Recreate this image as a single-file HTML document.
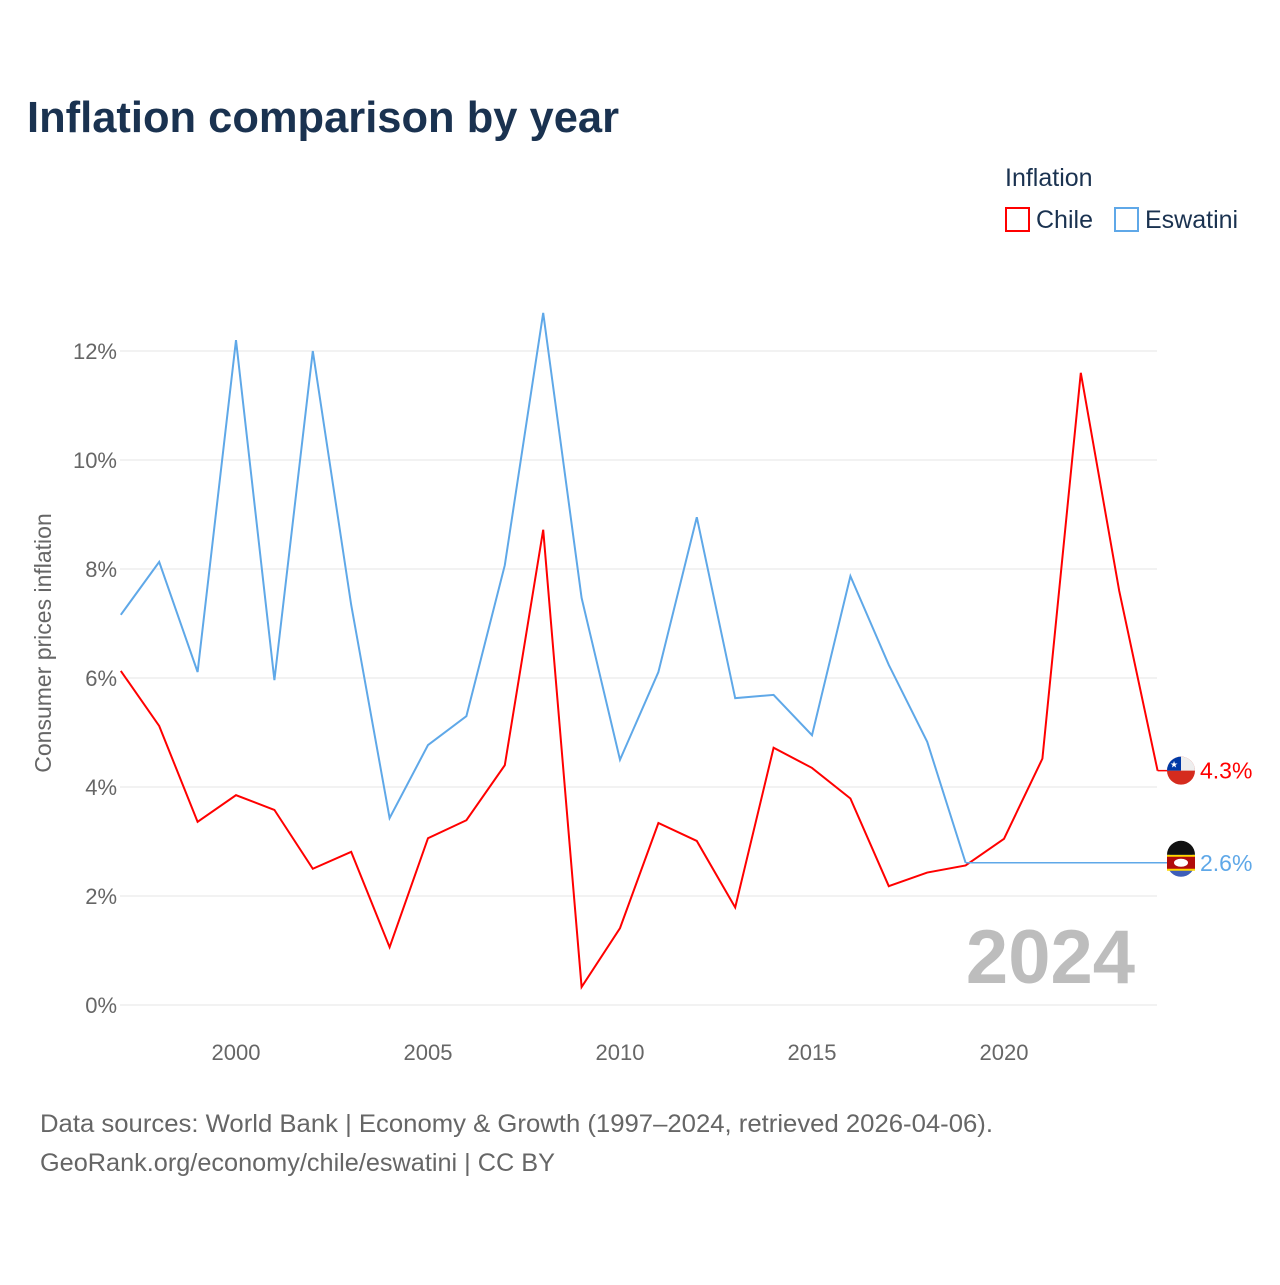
<!DOCTYPE html>
<html><head><meta charset="utf-8"><style>
body{margin:0;background:#fff;font-family:"Liberation Sans",sans-serif}
</style></head><body>
<svg id="chart" width="1280" height="1280" viewBox="0 0 1280 1280" xmlns="http://www.w3.org/2000/svg">
<text x="27" y="132" font-size="44" font-weight="bold" fill="#1a3250" textLength="592" lengthAdjust="spacingAndGlyphs">Inflation comparison by year</text>
<text x="1005" y="186" font-size="25" fill="#1a3250">Inflation</text>
<g><rect x="1006" y="208" width="23" height="23" fill="none" stroke="#ff0000" stroke-width="2"/><text x="1036" y="228" font-size="25" fill="#1a3250">Chile</text></g>
<g><rect x="1115" y="208" width="23" height="23" fill="none" stroke="#5fa8e8" stroke-width="2"/><text x="1145" y="228" font-size="25" fill="#1a3250">Eswatini</text></g>
<g id="grid"></g>
<g id="xticks"></g>
<text transform="translate(51,643) rotate(-90)" text-anchor="middle" font-size="23" fill="#666">Consumer prices inflation</text>
<text x="1135" y="983" text-anchor="end" font-size="76" font-weight="bold" fill="#bdbdbd">2024</text>
<g id="series"></g>
<text x="40" y="1132" font-size="25" fill="#666" textLength="953" lengthAdjust="spacingAndGlyphs">Data sources: World Bank | Economy &amp; Growth (1997–2024, retrieved 2026-04-06).</text>
<text x="40" y="1171" font-size="25" fill="#666" textLength="515" lengthAdjust="spacingAndGlyphs">GeoRank.org/economy/chile/eswatini | CC BY</text>
</svg>
<script>
const years=[1997,1998,1999,2000,2001,2002,2003,2004,2005,2006,2007,2008,2009,2010,2011,2012,2013,2014,2015,2016,2017,2018,2019,2020,2021,2022,2023,2024];
const chile=[6.13,5.12,3.36,3.85,3.58,2.50,2.81,1.06,3.06,3.39,4.40,8.72,0.33,1.41,3.34,3.01,1.79,4.72,4.35,3.79,2.18,2.43,2.56,3.05,4.52,11.6,7.6,4.3];
const eswatini=[7.16,8.13,6.11,12.2,5.96,12.0,7.34,3.43,4.77,5.30,8.07,12.7,7.47,4.50,6.11,8.95,5.63,5.69,4.95,7.87,6.24,4.83,2.61,null,null,null,null,null];
const yTicks=[0,2,4,6,8,10,12];
const xTicks=[2000,2005,2010,2015,2020];
const NS="http://www.w3.org/2000/svg";
const X=y=>120.8+(y-1997)*38.4;
const Y=v=>1005-v*54.5;
function mk(tag,attrs,parent,txt){const e=document.createElementNS(NS,tag);for(const k in attrs)e.setAttribute(k,attrs[k]);if(txt!==undefined)e.textContent=txt;parent.appendChild(e);return e;}
const grid=document.getElementById('grid');
yTicks.forEach(t=>{
 const l=mk('line',{x1:120,x2:1157,y1:Y(t),y2:Y(t),stroke:'#e6e6e6','stroke-width':1},grid);
 
 
 const tx=mk('text',{x:117,y:Y(t)+8,'text-anchor':'end','font-size':22,fill:'#666'},grid,t+'%');
 
 
});
const xt=document.getElementById('xticks');
xTicks.forEach(t=>{
 const tx=mk('text',{x:X(t),y:1060,'text-anchor':'middle','font-size':22,fill:'#666'},xt,t);
 
 
});
const s=document.getElementById('series');
function line(vals,color,name){
 let d='',last=null;
 vals.forEach((v,i)=>{if(v==null)return;d+=(d?'L':'M')+X(years[i])+','+Y(v);last=v;});
 const p=mk('path',{d:d,fill:'none',stroke:color,'stroke-width':2},s);
 
 
 return last;
}
const cLast=line(chile,'#ff0000','chile');
const eLast=line(eswatini,'#5fa8e8','eswatini');
let li=0;eswatini.forEach((v,i)=>{if(v!=null)li=i;});
const ext=mk('line',{x1:X(years[li]),x2:1168,y1:Y(eLast),y2:Y(eLast),stroke:'#5fa8e8','stroke-width':1.5},s);


const cext=mk('line',{x1:X(2024),x2:1168,y1:Y(cLast),y2:Y(cLast),stroke:'#ff0000','stroke-width':1.5},s);


const fc=mk('g',{},s);


mk('circle',{cx:1181,cy:Y(cLast),r:14,fill:'#d52b1e'},fc);
mk('path',{d:`M1167,${Y(cLast)} A14,14 0 0 1 1195,${Y(cLast)} Z`,fill:'#eee'},fc);
mk('path',{d:`M1167,${Y(cLast)} A14,14 0 0 1 1181,${Y(cLast)-14} L1181,${Y(cLast)} Z`,fill:'#0039a6'},fc);
mk('text',{x:1174,y:Y(cLast)-3,'font-size':9,fill:'#fff','text-anchor':'middle'},fc,'★');
const cl=mk('text',{x:1200,y:Y(cLast)+8,'font-size':23,fill:'#ff0000'},s,cLast.toFixed(1)+'%');


const fe=mk('g',{},s);


const ey=Y(eLast);
mk('circle',{cx:1181,cy:ey,r:14,fill:'#3e5eb9'},fe);
mk('rect',{x:1167,y:ey-8,width:28,height:16,fill:'#ffd900'},fe);
mk('rect',{x:1167,y:ey-6,width:28,height:12,fill:'#b10c0c'},fe);
mk('ellipse',{cx:1181,cy:ey,rx:7,ry:4,fill:'#fff'},fe);
mk('path',{d:`M1167,${ey-8} A14,14 0 0 1 1195,${ey-8} Z`,fill:'#111'},fe);
const el=mk('text',{x:1200,y:ey+8,'font-size':23,fill:'#5fa8e8'},s,eLast.toFixed(1)+'%');


</script>
</body></html>
